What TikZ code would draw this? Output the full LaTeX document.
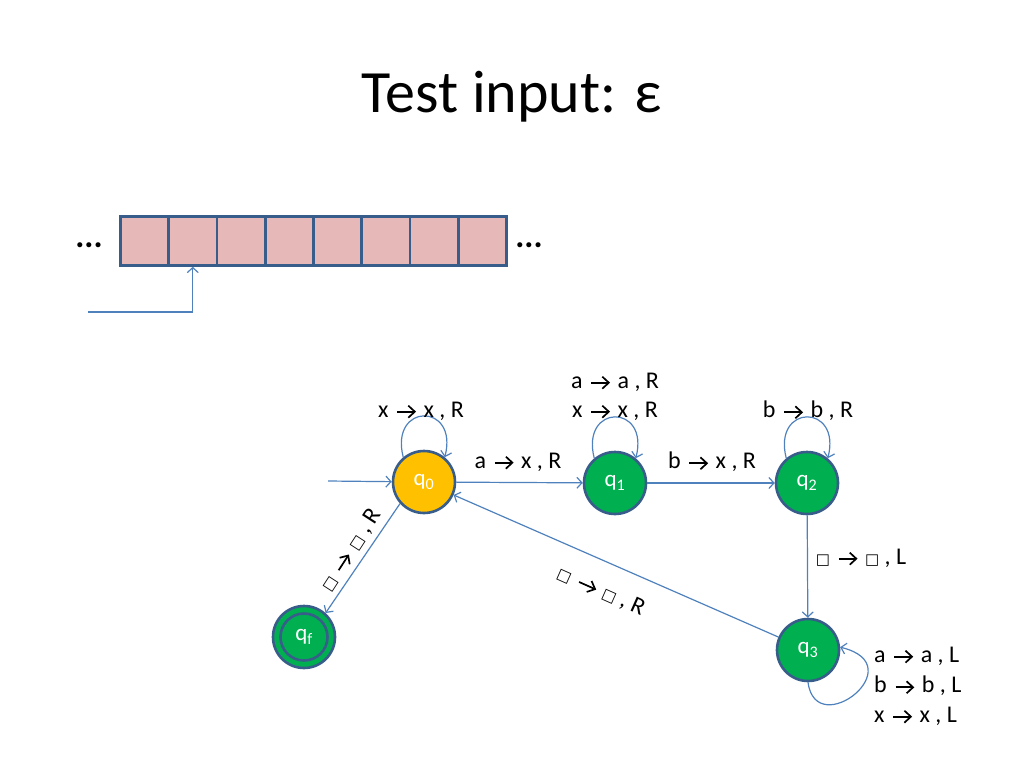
\documentclass[tikz,border=0pt]{standalone}
\usepackage{fontspec}
\setmainfont{Carlito}
\newfontfamily\djv{DejaVu Sans}
\usetikzlibrary{arrows.meta}
\definecolor{edgec}{RGB}{79,129,189}
\definecolor{bord}{RGB}{56,93,138}
\definecolor{tapec}{RGB}{230,184,183}
\definecolor{gr}{RGB}{0,176,80}
\definecolor{yl}{RGB}{255,192,0}
\newcommand{\bx}{{\djv\fontsize{15}{15}\selectfont □}}
\newcommand{\ar}{\kern2.5pt\tikz[x=1pt,y=1pt,baseline=-5.5pt]{\draw[black, line width=1.7pt] (0,0) -- (17,0); \draw[black, line width=1.7pt, line join=miter] (11,6) -- (17.5,0) -- (11,-6);}\kern2.5pt}
\begin{document}
\begin{tikzpicture}[x=1pt,y=-1pt,
  state/.style={circle, draw=bord, line width=2.6pt, minimum size=62pt, inner sep=0pt, text=white, font=\fontsize{23}{25}\selectfont},
  cell/.style={rectangle, draw=bord, line width=2.8pt, fill=tapec, minimum width=48.25pt, minimum height=49pt, inner sep=0pt, anchor=north west},
  conn/.style={draw=edgec, line width=1.2pt, -{Straight Barb[length=5pt,width=11pt]}},
  lbl/.style={font=\fontsize{24}{28}\selectfont, inner sep=1pt, text=black},
  dots/.style={font=\fontsize{34}{34}\selectfont\bfseries, inner sep=0pt, anchor=base}
]
\useasboundingbox (0,0) rectangle (1024,768);
\node[font=\fontsize{60}{64}\selectfont] (title) at (512,97) {Test input: ε};

% tape
\foreach \i in {0,...,7} {
  \node[cell] (c\i) at ({119+48.25*\i},215) {};
}
\node[dots] (dl) at (89,247) {...};
\node[dots] (dr) at (529,247) {...};
\coordinate (hs) at (88,312);
\draw[conn] (hs) -| (c1.south);

% states
\node[state, fill=yl] (q0) at (424,482) {q\textsubscript{0}};
\node[state, fill=gr] (q1) at (615,483) {q\textsubscript{1}};
\node[state, fill=gr] (q2) at (807,483) {q\textsubscript{2}};
\node[state, fill=gr] (q3) at (808,650) {q\textsubscript{3}};
\node[state, fill=gr] (qf) at (304,637) {q\textsubscript{f}};
\draw[bord, line width=2.6pt] (qf.center) circle (23.5);

% edges
\coordinate (init) at (328,481);
\draw[conn] (init) -- (q0);
\draw[conn] (q0) -- (q1);
\draw[conn] (q1) -- (q2);
\draw[conn] (q2) -- (q3);
\draw[conn] (q3) -- (q0);
\draw[conn] (q0.222) -- (qf.48);

% loops
\draw[conn] (q0.130) .. controls +(-14,-55) and +(14,-55) .. (q0.50);
\draw[conn] (q1.130) .. controls +(-14,-55) and +(14,-55) .. (q1.50);
\draw[conn] (q2.130) .. controls +(-14,-55) and +(14,-55) .. (q2.50);
\draw[conn] (q3.south) .. controls +(8,60) and +(74,18) .. (q3.5);

% labels
\node[lbl] (lq0) at (421,411) {x \ar{} x , R};
\node[lbl] (lq1a) at (615,382) {a \ar{} a , R};
\node[lbl] (lq1b) at (615,411) {x \ar{} x , R};
\node[lbl] (lq2) at (808,411) {b \ar{} b , R};
\node[lbl] (l01) at (518,462) {a \ar{} x , R};
\node[lbl] (l12) at (712,462) {b \ar{} x , R};
\node[lbl] (l23) at (861,558) {\bx{} \ar{} \bx{} , L};
\node[lbl, rotate=-24] (l30) at (601,591) {\bx{} \ar{} \bx{} , R};
\node[lbl, rotate=57] (l0f) at (351,550) {\bx{} \ar{} \bx{} , R};
\node[lbl, anchor=west] (lq3a) at (873,656) {a \ar{} a , L};
\node[lbl, anchor=west] (lq3b) at (873,686) {b \ar{} b , L};
\node[lbl, anchor=west] (lq3c) at (873,716) {x \ar{} x , L};
\end{tikzpicture}
\end{document}
